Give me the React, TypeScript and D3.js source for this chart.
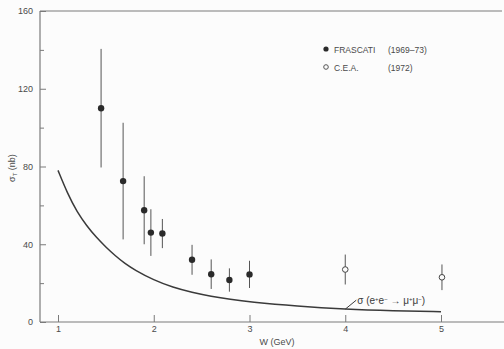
import React, { useEffect, useRef } from "react";
import * as d3 from "d3";

// data
const frascatiW = [1.45, 1.68, 1.9, 1.97, 2.09, 2.4, 2.6, 2.79, 3.0];
const frascatiSigma = [110, 72.5, 57.5, 46, 45.5, 32, 24.6, 21.6, 24.5];
const frascatiErr = [30.5, 30, 17.5, 12, 7.5, 7.7, 7.6, 6, 7];

const ceaW = [4.0, 5.01];
const ceaSigma = [27, 23];
const ceaErr = [7.7, 6.6];

const curveW = [1.0, 1.1, 1.2, 1.3, 1.4, 1.5, 1.6, 1.7, 1.8, 2.0, 2.2, 2.4, 2.6, 2.8, 3.0, 3.5, 4.0, 4.5, 5.0];
const curveSigma = [78, 66, 56.5, 49.5, 43.5, 38.5, 34, 30, 26.8, 21.5, 17.8, 15.2, 13.2, 11.6, 10.3, 8.1, 6.6, 5.8, 5.3];

const xTicks = [1, 2, 3, 4, 5];
const yTicks = [0, 40, 80, 120, 160];
const yMinorTicks = [20, 60, 100, 140];

const legendLabels = ["FRASCATI", "C.E.A."];
const legendYears = ["(1969\u201373)", "(1972)"];

const W = 504;
const H = 349;
const ink = "#3a3a3a";
const axisInk = "#7a7a7a";
const textInk = "#4a4a4a";
const font = "'Liberation Sans', Arial, sans-serif";

const App = () => {
  const svgRef = useRef<SVGSVGElement>(null);

  useEffect(() => {
    const svg = d3.select(svgRef.current);
    svg.selectAll("*").remove();

    const x = d3.scaleLinear().domain([1, 5]).range([58, 441]);
    const y = d3.scaleLinear().domain([0, 160]).range([322, 11]);

    svg.append("rect").attr("width", W).attr("height", H).attr("fill", "#fcfcfc");

    // frame: left axis, bottom axis, top line
    svg.append("line").attr("x1", 40).attr("x2", 40).attr("y1", y(0)).attr("y2", y(160))
      .attr("stroke", axisInk).attr("stroke-width", 1.2);
    svg.append("line").attr("x1", 40).attr("x2", 504).attr("y1", y(0)).attr("y2", y(0))
      .attr("stroke", axisInk).attr("stroke-width", 1.2);
    svg.append("line").attr("x1", 40).attr("x2", 502).attr("y1", y(160)).attr("y2", y(160))
      .attr("stroke", axisInk).attr("stroke-width", 1.2);

    // y axis
    const yAxis = d3.axisLeft(y).tickValues(yTicks).tickSizeInner(-6).tickSizeOuter(0).tickPadding(7);
    const gy = svg.append("g").attr("transform", "translate(40,0)").call(yAxis);
    gy.select(".domain").remove();
    gy.selectAll("line").attr("stroke", axisInk);
    gy.selectAll("text").attr("fill", textInk).style("font-family", font).style("font-size", "9px");

    const yMinor = d3.axisLeft(y).tickValues(yMinorTicks).tickSizeInner(-4).tickSizeOuter(0).tickFormat(() => "");
    const gym = svg.append("g").attr("transform", "translate(40,0)").call(yMinor);
    gym.select(".domain").remove();
    gym.selectAll("line").attr("stroke", axisInk);

    // x axis
    const xAxis = d3.axisBottom(x).tickValues(xTicks).tickSizeInner(-7).tickSizeOuter(0).tickPadding(4)
      .tickFormat(d3.format("d"));
    const gx = svg.append("g").attr("transform", `translate(0,${y(0)})`).call(xAxis);
    gx.select(".domain").remove();
    gx.selectAll("line").attr("stroke", axisInk);
    gx.selectAll("text").attr("fill", textInk).style("font-family", font).style("font-size", "9px");

    // axis titles
    svg.append("text").attr("x", 277).attr("y", 345).attr("text-anchor", "middle")
      .attr("fill", textInk).style("font-family", font).style("font-size", "9px").text("W  (GeV)");

    const yl = svg.append("text").attr("transform", "translate(15,168) rotate(-90)").attr("text-anchor", "middle")
      .attr("fill", textInk).style("font-family", font).style("font-size", "9px");
    yl.append("tspan").text("\u03c3");
    yl.append("tspan").attr("dy", 2).style("font-size", "6px").text("T");
    yl.append("tspan").attr("dy", -2).text("  (nb)");

    // mu pair curve
    const line = d3.line<number>()
      .x((d, i) => x(curveW[i]))
      .y(d => y(d))
      .curve(d3.curveBasis);
    svg.append("path").datum(curveSigma).attr("d", line).attr("fill", "none")
      .attr("stroke", ink).attr("stroke-width", 1.5);

    // curve label with leader
    svg.append("line").attr("x1", x(4)).attr("y1", y(curveSigma[16])).attr("x2", x(4) + 11).attr("y2", y(curveSigma[16]) - 9)
      .attr("stroke", ink).attr("stroke-width", 1);
    const cl = svg.append("text").attr("x", x(4) + 12).attr("y", 304)
      .attr("fill", ink).style("font-family", font).style("font-size", "10px");
    cl.append("tspan").text("\u03c3 (e");
    cl.append("tspan").attr("dy", -3).style("font-size", "6px").text("+");
    cl.append("tspan").attr("dy", 3).text("e");
    cl.append("tspan").attr("dy", -3).style("font-size", "6px").text("\u2212");
    cl.append("tspan").attr("dy", 3).text(" \u2192 \u03bc");
    cl.append("tspan").attr("dy", -3).style("font-size", "6px").text("+");
    cl.append("tspan").attr("dy", 3).text("\u03bc");
    cl.append("tspan").attr("dy", -3).style("font-size", "6px").text("\u2212");
    cl.append("tspan").attr("dy", 3).text(")");

    // Frascati points
    const fr = svg.append("g");
    fr.selectAll("line").data(frascatiW).join("line")
      .attr("x1", d => x(d)).attr("x2", d => x(d))
      .attr("y1", (d, i) => y(frascatiSigma[i] + frascatiErr[i]))
      .attr("y2", (d, i) => y(frascatiSigma[i] - frascatiErr[i]))
      .attr("stroke", "#555").attr("stroke-width", 1);
    fr.selectAll("circle").data(frascatiW).join("circle")
      .attr("cx", d => x(d)).attr("cy", (d, i) => y(frascatiSigma[i]))
      .attr("r", 3.2).attr("fill", "#2a2a2a");

    // CEA points
    const ce = svg.append("g");
    ce.selectAll("line").data(ceaW).join("line")
      .attr("x1", d => x(d)).attr("x2", d => x(d))
      .attr("y1", (d, i) => y(ceaSigma[i] + ceaErr[i]))
      .attr("y2", (d, i) => y(ceaSigma[i] - ceaErr[i]))
      .attr("stroke", "#555").attr("stroke-width", 1);
    ce.selectAll("circle").data(ceaW).join("circle")
      .attr("cx", d => x(d)).attr("cy", (d, i) => y(ceaSigma[i]))
      .attr("r", 2.8).attr("fill", "#fcfcfc").attr("stroke", "#444").attr("stroke-width", 1);

    // legend
    const lg = svg.append("g").attr("transform", "translate(326,49)");
    legendLabels.forEach((lab, i) => {
      const row = lg.append("g").attr("transform", `translate(0,${i * 18})`);
      row.append("circle").attr("r", i === 0 ? 2.6 : 2.3)
        .attr("fill", i === 0 ? "#2a2a2a" : "#fcfcfc")
        .attr("stroke", i === 0 ? "none" : "#555");
      row.append("text").attr("x", 8).attr("y", 3.5).attr("fill", textInk)
        .style("font-family", font).style("font-size", "8.5px").text(lab);
      row.append("text").attr("x", 62).attr("y", 3.5).attr("fill", textInk)
        .style("font-family", font).style("font-size", "8.5px").text(legendYears[i]);
    });
  }, []);

  return (
    <svg ref={svgRef} width={W} height={H}
      style={{ position: "absolute", left: 0, top: 0, display: "block" }} />
  );
};

export default App;
